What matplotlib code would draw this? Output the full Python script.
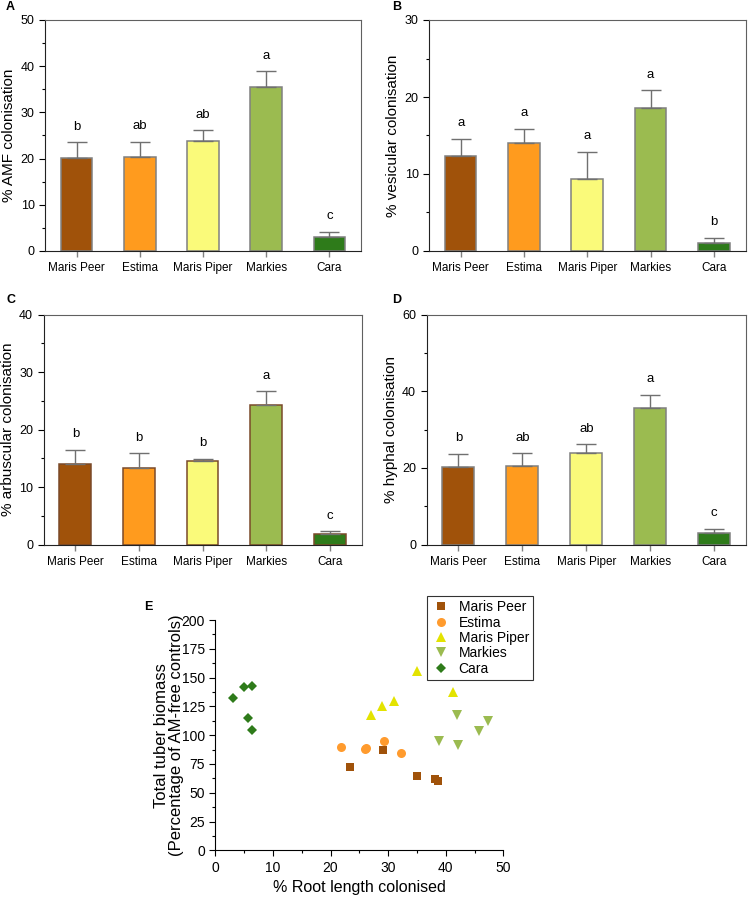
import numpy as np
import matplotlib
matplotlib.use('Agg')
import matplotlib.pyplot as plt
from matplotlib.ticker import MultipleLocator, AutoMinorLocator

plt.rcParams['font.family'] = ['Liberation Sans', 'DejaVu Sans']

cultivars = ['Maris Peer', 'Estima', 'Maris Piper', 'Markies', 'Cara']
bar_colors = ['#A0520A', '#FF9B1E', '#FAFA7A', '#9BBB50', '#2E7B1A']
pt_colors = ['#A0520A', '#FF9B2E', '#E3E300', '#9BBB50', '#2E7B1A']

# panel A - total AMF colonisation
amf_mean = [20.2, 20.4, 23.8, 35.4, 3.0]
amf_err = [3.3, 3.3, 2.3, 3.5, 1.2]
amf_letters = ['b', 'ab', 'ab', 'a', 'c']

# panel B - vesicles
ves_mean = [12.4, 14.0, 9.3, 18.6, 1.1]
ves_err = [2.2, 1.9, 3.6, 2.3, 0.6]
ves_letters = ['a', 'a', 'a', 'a', 'b']

# panel C - arbuscules
arb_mean = [14.1, 13.4, 14.6, 24.3, 1.8]
arb_err = [2.4, 2.5, 0.3, 2.4, 0.5]
arb_letters = ['b', 'b', 'b', 'a', 'c']

# panel D - hyphae
hyp_mean = [20.3, 20.5, 23.9, 35.5, 3.1]
hyp_err = [3.4, 3.4, 2.3, 3.6, 1.1]
hyp_letters = ['b', 'ab', 'ab', 'a', 'c']

# panel E - % root length colonised vs tuber biomass
peer_x = [23.4, 29.1, 35.0, 38.2, 38.7]
peer_y = [72.6, 86.8, 64.8, 61.6, 59.9]
estima_x = [21.9, 26.0, 26.2, 29.3, 32.3]
estima_y = [89.7, 88.0, 88.6, 94.6, 84.8]
piper_x = [27.1, 29.0, 31.0, 35.0, 41.2]
piper_y = [117.5, 125.6, 129.4, 155.4, 137.5]
markies_x = [38.8, 41.9, 42.1, 45.7, 47.3]
markies_y = [94.6, 117.2, 91.2, 103.9, 112.0]
cara_x = [3.1, 4.9, 6.4, 5.6, 6.4]
cara_y = [132.0, 141.5, 142.7, 114.9, 104.8]

W, H = 748, 898
fig = plt.figure(figsize=(W / 100, H / 100), dpi=100)


def px_axes(left, top, right, bottom):
    return fig.add_axes([left / W, 1 - bottom / H, (right - left) / W, (bottom - top) / H])


def bar_panel(ax, means, errs, letters, ymax, step, ylabel, edge):
    x = np.arange(len(cultivars))
    ax.bar(x, means, width=0.5, color=bar_colors, edgecolor=edge, linewidth=1.1, zorder=2)
    ax.errorbar(x, means, yerr=[np.zeros(len(means)), errs], fmt='none',
                ecolor='#707070', elinewidth=1.0, capsize=7, capthick=1.0, zorder=3)
    for xi, m, e, lab in zip(x, means, errs, letters):
        ax.annotate(lab, (xi, m + e), xytext=(0, 9), textcoords='offset points',
                    ha='center', va='baseline', fontsize=9.5)
    ax.set_xlim(-0.5, 4.5)
    ax.set_ylim(0, ymax)
    ax.yaxis.set_major_locator(MultipleLocator(step))
    ax.yaxis.set_minor_locator(AutoMinorLocator(2))
    ax.set_xticks(x)
    ax.set_xticklabels(cultivars, fontsize=8.5)
    ax.tick_params(axis='y', direction='out', labelsize=9, length=4, width=0.8)
    ax.tick_params(axis='y', which='minor', direction='out', length=2.5, width=0.8)
    ax.tick_params(axis='x', direction='out', length=4, width=1.0, color='#808080', pad=4)
    ax.set_ylabel(ylabel, fontsize=11, labelpad=3)
    for s in ['left', 'bottom']:
        ax.spines[s].set_color('#222222')
    for s in ['top', 'right']:
        ax.spines[s].set_color('#606060')
    for s in ax.spines.values():
        s.set_linewidth(0.8)


axA = px_axes(45, 20, 361, 251)
bar_panel(axA, amf_mean, amf_err, amf_letters, 50, 10, '% AMF colonisation', '#808080')
axB = px_axes(429, 20, 745.5, 251)
bar_panel(axB, ves_mean, ves_err, ves_letters, 30, 10, '% vesicular colonisation', '#808080')
axC = px_axes(43.5, 314.5, 361.5, 544.7)
bar_panel(axC, arb_mean, arb_err, arb_letters, 40, 10, '% arbuscular colonisation', '#7A4A2A')
axD = px_axes(426.5, 314.5, 746, 544.7)
bar_panel(axD, hyp_mean, hyp_err, hyp_letters, 60, 20, '% hyphal colonisation', '#808080')

axE = px_axes(215.3, 620, 503.3, 850.3)
series = [
    (peer_x, peer_y, 's', 'Maris Peer', 5.5),
    (estima_x, estima_y, 'o', 'Estima', 6.5),
    (piper_x, piper_y, '^', 'Maris Piper', 7),
    (markies_x, markies_y, 'v', 'Markies', 7),
    (cara_x, cara_y, 'D', 'Cara', 5.5),
]
for (xs, ys, mk, lab, ms), col in zip(series, pt_colors):
    axE.plot(xs, ys, linestyle='none', marker=mk, markersize=ms, color=col,
             markeredgewidth=0, label=lab)
axE.set_xlim(0, 50)
axE.set_ylim(0, 200)
axE.xaxis.set_major_locator(MultipleLocator(10))
axE.xaxis.set_minor_locator(AutoMinorLocator(2))
axE.yaxis.set_major_locator(MultipleLocator(25))
axE.yaxis.set_minor_locator(AutoMinorLocator(2))
axE.tick_params(which='major', direction='out', labelsize=10, length=4, width=0.8)
axE.tick_params(which='minor', direction='out', length=2.5, width=0.8)
axE.spines['top'].set_visible(False)
axE.spines['right'].set_visible(False)
axE.set_xlabel('% Root length colonised', fontsize=11.5)
axE.set_ylabel('Total tuber biomass\n(Percentage of AM-free controls)', fontsize=12,
               labelpad=-1.5, linespacing=1.0)
leg = axE.legend(loc='upper left', bbox_to_anchor=(426.7 / W, 1 - 596 / H),
                 bbox_transform=fig.transFigure, fontsize=10, frameon=True,
                 fancybox=False, edgecolor='black', borderpad=0.3, labelspacing=0.1,
                 handletextpad=0.6, handlelength=1.4, borderaxespad=0)
leg.get_frame().set_linewidth(0.8)

for lab, xp, yp in [('A', 6, 7), ('B', 392, 7), ('C', 6, 300), ('D', 392, 300), ('E', 144, 607)]:
    fig.text(xp / W, 1 - yp / H, lab, fontsize=9, fontweight='bold', va='center')

fig.savefig('out.png', dpi=100)
